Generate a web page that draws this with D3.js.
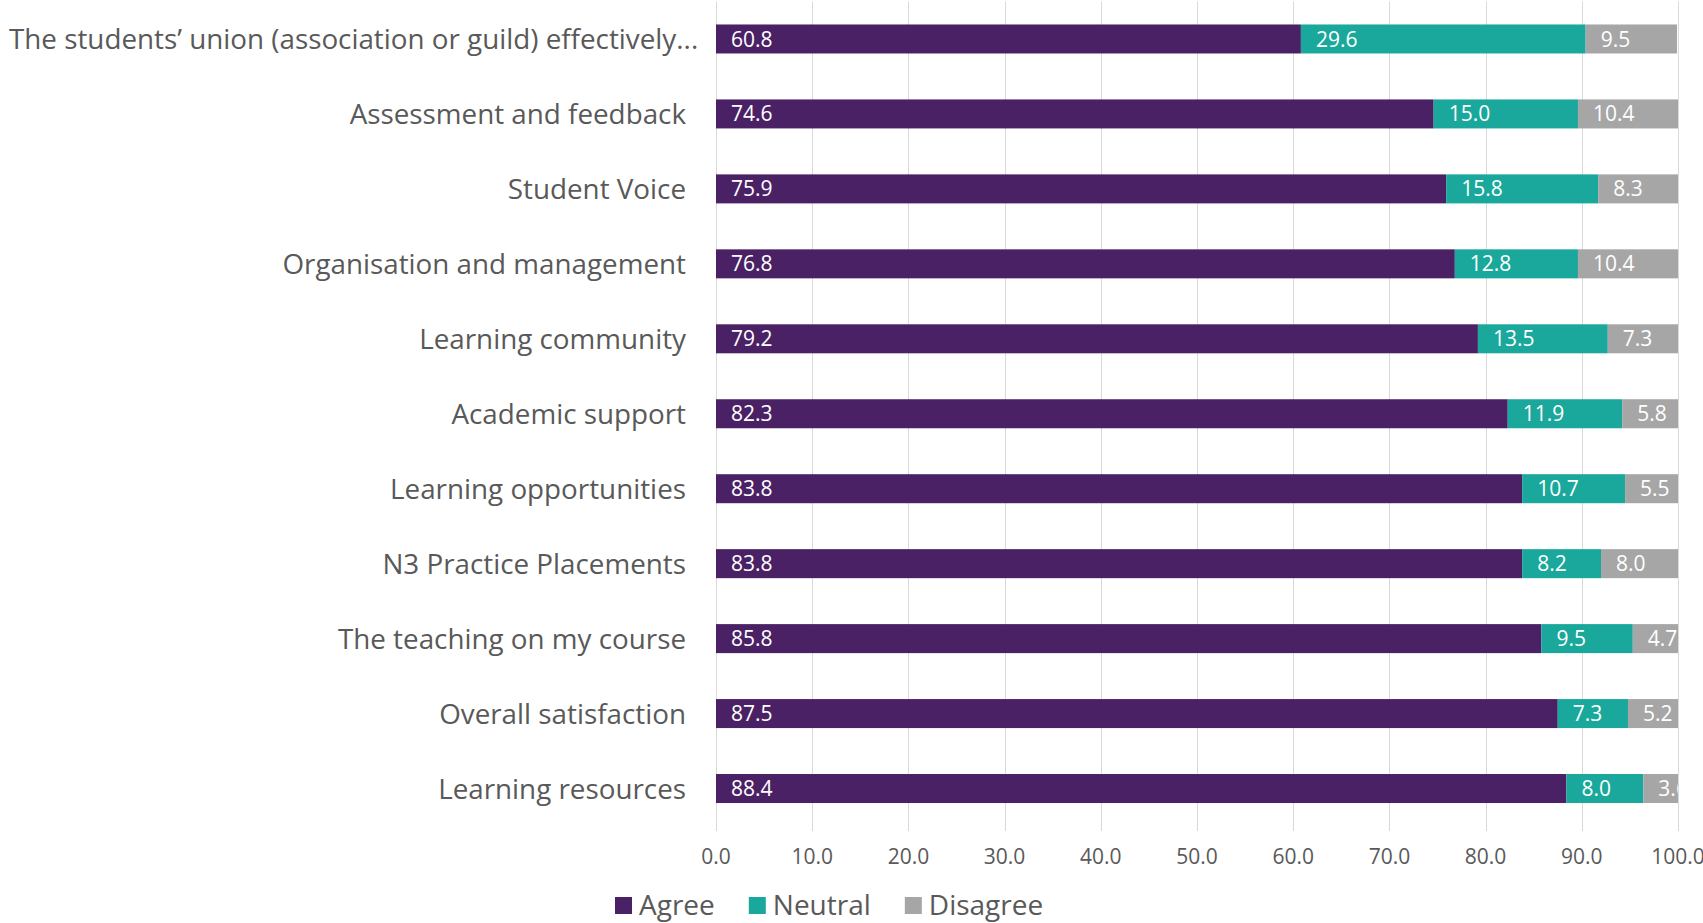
<!DOCTYPE html>
<html>
<head>
<meta charset="utf-8">
<script src="https://cdn.jsdelivr.net/npm/d3@7"></script>
<style>
  body { margin: 0; background: #fff; }
  svg { display: block; font-family: "Open Sans", sans-serif; }
  .grid line { stroke: #d9d9d9; stroke-width: 1; }
  .cat { fill: #595959; font-size: 27.8px; }
  .val { fill: #fff; font-size: 21px; }
  .tick-lbl { fill: #595959; font-size: 21px; }
  .leg text { fill: #595959; font-size: 28px; }
</style>
</head>
<body>
<svg width="1703" height="923"></svg>
<script>
// chart data
var categories = [
  "The students\u2019 union (association or guild) effectively...",
  "Assessment and feedback",
  "Student Voice",
  "Organisation and management",
  "Learning community",
  "Academic support",
  "Learning opportunities",
  "N3 Practice Placements",
  "The teaching on my course",
  "Overall satisfaction",
  "Learning resources"
];
var agree    = [60.8, 74.6, 75.9, 76.8, 79.2, 82.3, 83.8, 83.8, 85.8, 87.5, 88.4];
var neutral  = [29.6, 15.0, 15.8, 12.8, 13.5, 11.9, 10.7,  8.2,  9.5,  7.3,  8.0];
var disagree = [ 9.5, 10.4,  8.3, 10.4,  7.3,  5.8,  5.5,  8.0,  4.7,  5.2,  3.6];
var seriesNames = ["Agree", "Neutral", "Disagree"];
var seriesColors = ["#4b2166", "#19a89b", "#a6a6a6"];
var xTicks = [0, 10, 20, 30, 40, 50, 60, 70, 80, 90, 100];

var svg = d3.select("svg"),
  margin = {top: 1.5, right: 25, bottom: 97, left: 716},
  width = +svg.attr("width") - margin.left - margin.right,
  height = +svg.attr("height") - margin.top - margin.bottom,
  fmt = d3.format(".1f"),
  g = svg.append("g").attr("transform", "translate(" + margin.left + "," + margin.top + ")");

var x = d3.scaleLinear().domain([0, 100]).range([0, width]);
var y = d3.scaleBand().domain(categories).range([0, height])
  .paddingInner(0.613).paddingOuter(0.3065);

// table rows for stacking
var rows = categories.map(function(c, i) {
  return {cat: c, Agree: agree[i], Neutral: neutral[i], Disagree: disagree[i]};
});
var stack = d3.stack().keys(seriesNames)(rows);

svg.append("defs").append("clipPath").attr("id", "plotclip")
  .append("rect").attr("x", 0).attr("y", -5).attr("width", width).attr("height", height + 10);

// gridlines + little ticks under the plot
g.append("g").attr("class", "grid")
  .selectAll("line").data(xTicks).enter().append("line")
  .attr("x1", function(d) { return Math.round(x(d)) + 0.5; })
  .attr("x2", function(d) { return Math.round(x(d)) + 0.5; })
  .attr("y1", 0)
  .attr("y2", height + 5);

var layers = g.append("g").attr("clip-path", "url(#plotclip)")
  .selectAll("g.layer").data(stack).enter().append("g")
  .attr("class", "layer")
  .attr("fill", function(d, i) { return seriesColors[i]; });

layers.selectAll("rect").data(function(d) { return d; }).enter().append("rect")
  .attr("x", function(d) { return x(d[0]); })
  .attr("y", function(d) { return y(d.data.cat); })
  .attr("width", function(d) { return x(d[1]) - x(d[0]); })
  .attr("height", y.bandwidth());

// value labels sit at the inside base of each segment
layers.selectAll("text").data(function(d) { return d; }).enter().append("text")
  .attr("class", "val")
  .attr("x", function(d) { return x(d[0]) + 15; })
  .attr("y", function(d) { return y(d.data.cat) + y.bandwidth() / 2; })
  .attr("dy", "0.36em")
  .text(function(d) { return fmt(d[1] - d[0]); });

// x axis tick labels
g.append("g").selectAll("text").data(xTicks).enter().append("text")
  .attr("class", "tick-lbl")
  .attr("x", function(d) { return x(d); })
  .attr("y", height + 30)
  .attr("dy", "0.36em")
  .attr("text-anchor", "middle")
  .text(function(d) { return fmt(d); });

// category labels
var cats = svg.append("g").selectAll("text").data(categories).enter().append("text")
  .attr("class", "cat")
  .attr("x", 686)
  .attr("y", function(d) { return margin.top + y(d) + y.bandwidth() / 2; })
  .attr("dy", "0.36em")
  .attr("text-anchor", "end")
  .text(function(d) { return d; });
// long label: Excel lets it run past the anchor rather than off the left edge
cats.each(function() {
  var w = this.getComputedTextLength();
  if (686 - w < 9) {
    d3.select(this).attr("text-anchor", "start").attr("x", 9);
  }
});

// legend
var leg = svg.append("g").attr("class", "leg");
var lx = 615;
seriesNames.forEach(function(name, i) {
  leg.append("rect")
    .attr("x", lx).attr("y", 897)
    .attr("width", 17).attr("height", 17)
    .attr("fill", seriesColors[i]);
  var t = leg.append("text")
    .attr("x", lx + 24).attr("y", 904.5)
    .attr("dy", "0.36em")
    .text(name);
  lx += 24 + t.node().getComputedTextLength() + 34;
});
</script>
</body>
</html>
